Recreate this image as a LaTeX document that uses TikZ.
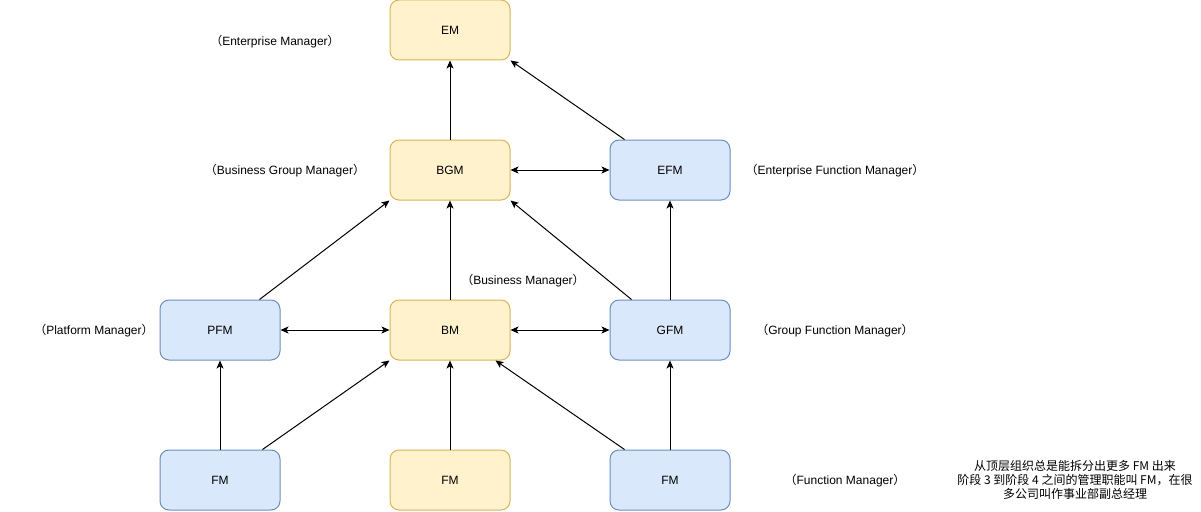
\documentclass[tikz,border=0pt]{standalone}
\usepackage{fontspec}
\setmainfont{Liberation Sans}
\newfontfamily\cjk{Noto Sans CJK SC}
\usetikzlibrary{arrows.meta}
\definecolor{yfill}{HTML}{FFF2CC}
\definecolor{ydraw}{HTML}{D6B656}
\definecolor{bfill}{HTML}{DAE8FC}
\definecolor{bdraw}{HTML}{6C8EBF}
\newcommand{\lp}{{\cjk （}}
\newcommand{\rp}{{\cjk ）}}
\begin{document}
\begin{tikzpicture}[x=1pt,y=-1pt,
  box/.style={rounded corners=9pt,minimum width=120pt,minimum height=60pt,inner sep=0pt,line width=1pt,font=\fontsize{12}{14}\selectfont},
  ybox/.style={box,fill=yfill,draw=ydraw},
  bbox/.style={box,fill=bfill,draw=bdraw},
  lbl/.style={font=\fontsize{12}{14}\selectfont,inner sep=0pt},
  arr/.style={-{Stealth[length=8pt,width=7pt,inset=2pt]},line width=1pt},
  darr/.style={{Stealth[length=8pt,width=7pt,inset=2pt]}-{Stealth[length=8pt,width=7pt,inset=2pt]},line width=1pt}]
\useasboundingbox (0,0) rectangle (1201,511);
\node[ybox] (em) at (450,30) {EM};
\node[ybox] (bgm) at (450,170) {BGM};
\node[bbox] (efm) at (670,170) {EFM};
\node[bbox] (pfm) at (220,330) {PFM};
\node[ybox] (bm) at (450,330) {BM};
\node[bbox] (gfm) at (670,330) {GFM};
\node[bbox] (fm1) at (220,480) {FM};
\node[ybox] (fm2) at (450,480) {FM};
\node[bbox] (fm3) at (670,480) {FM};

\node[lbl] (l1) at (275,42) {\lp Enterprise Manager\rp};
\node[lbl] (l2) at (285,171) {\lp Business Group Manager\rp};
\node[lbl] (l3) at (835,171) {\lp Enterprise Function Manager\rp};
\node[lbl] (l4) at (523,281) {\lp Business Manager\rp};
\node[lbl] (l5) at (94,331) {\lp Platform Manager\rp};
\node[lbl] (l6) at (835,331) {\lp Group Function Manager\rp};
\node[lbl] (l7) at (845,481) {\lp Function Manager\rp};
\node[lbl,align=center,font=\cjk\fontsize{12}{14}\selectfont] (note) at (1075,480) {从顶层组织总是能拆分出更多 FM 出来\\阶段 3 到阶段 4 之间的管理职能叫 FM，在很\\多公司叫作事业部副总经理};

\draw[arr] (bgm.north) -- (em.south);
\draw[arr] ([xshift=15pt]efm.north west) -- (em.south east);
\draw[darr] (bgm.east) -- (efm.west);
\draw[arr] ([xshift=100pt]pfm.north west) -- (bgm.south west);
\draw[arr] (bm.north) -- (bgm.south);
\draw[arr] ([xshift=22pt]gfm.north west) -- (bgm.south east);
\draw[arr] (gfm.north) -- (efm.south);
\draw[darr] (pfm.east) -- (bm.west);
\draw[darr] (bm.east) -- (gfm.west);
\draw[arr] (fm1.north) -- (pfm.south);
\draw[arr] ([xshift=103pt]fm1.north west) -- (bm.south west);
\draw[arr] (fm2.north) -- (bm.south);
\draw[arr] ([xshift=15pt]fm3.north west) -- ([xshift=-15pt]bm.south east);
\draw[arr] (fm3.north) -- (gfm.south);
\end{tikzpicture}
\end{document}
